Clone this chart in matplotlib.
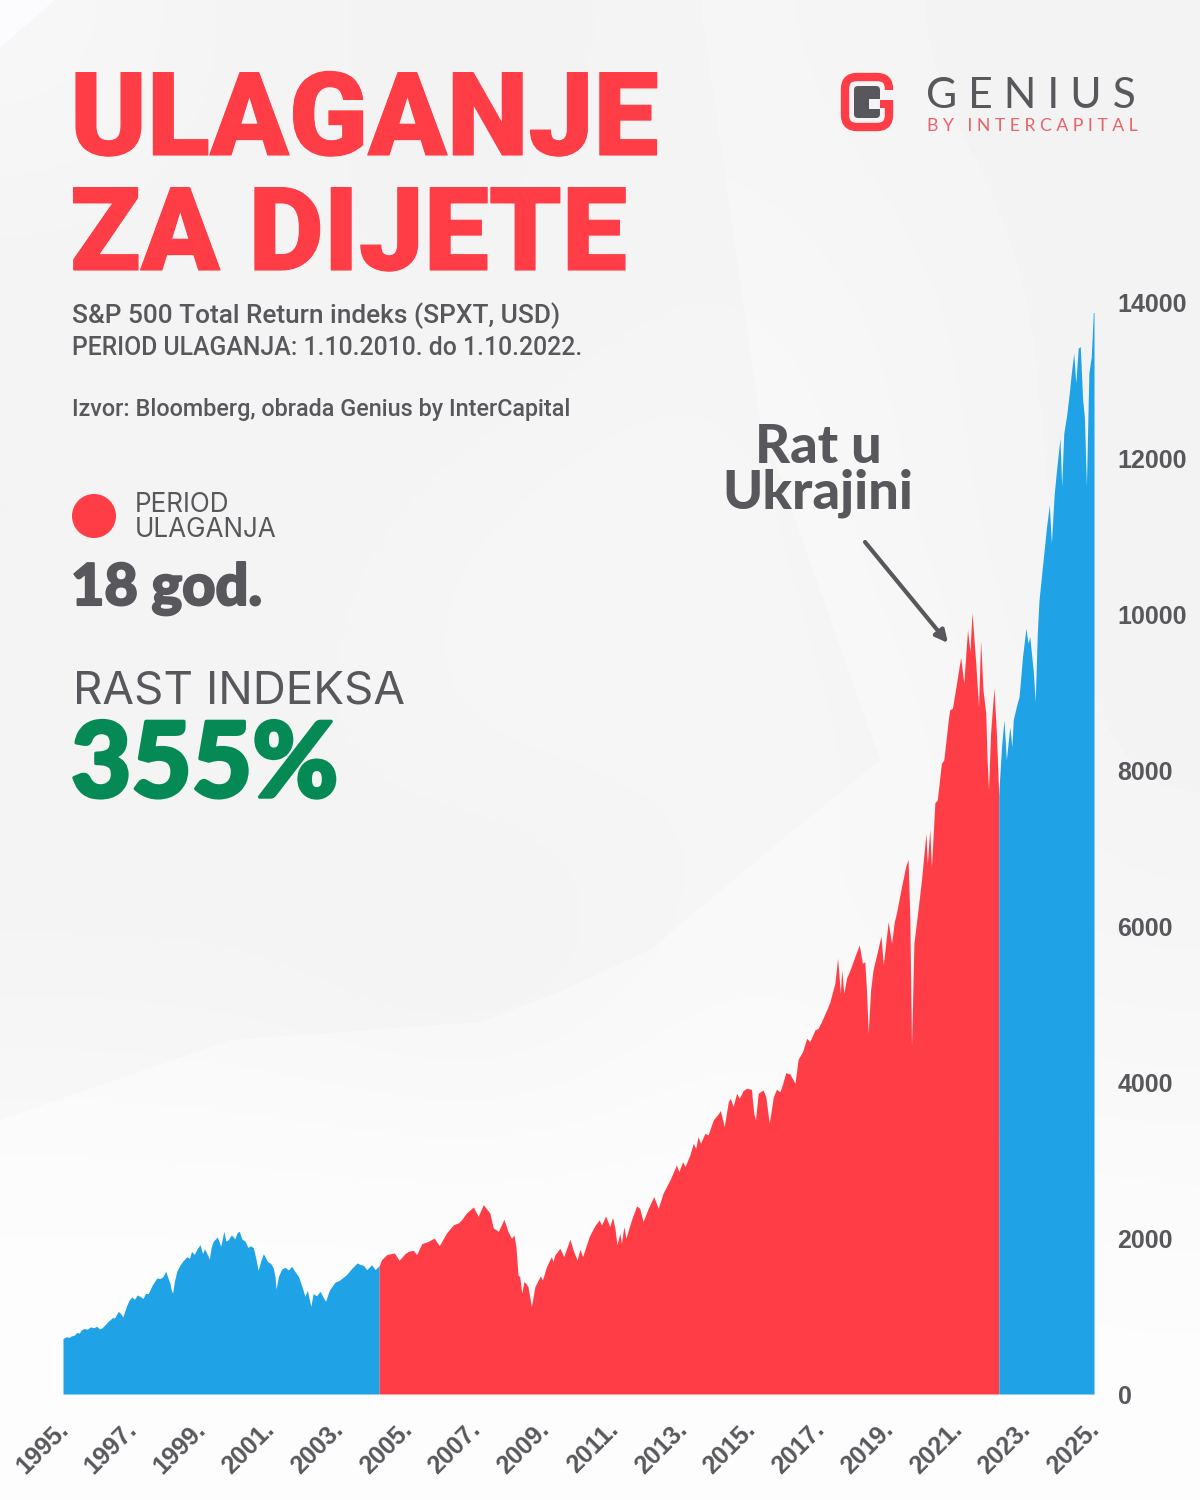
import numpy as np
import matplotlib
matplotlib.use('Agg')
import matplotlib.pyplot as plt
import matplotlib.patheffects as pe
from matplotlib.patches import Polygon, Circle, FancyBboxPatch
from matplotlib.transforms import ScaledTranslation

# S&P 500 total return
years = [1995.00, 1995.10, 1995.17, 1995.25, 1995.33, 1995.40, 1995.47, 1995.54, 1995.62, 1995.70, 1995.80, 1995.90,
         1995.98, 1996.06, 1996.13, 1996.25, 1996.30, 1996.37, 1996.44, 1996.50, 1996.61, 1996.68, 1996.74, 1996.85,
         1996.92, 1997.00, 1997.08, 1997.16, 1997.24, 1997.33, 1997.40, 1997.48, 1997.60, 1997.73, 1997.82, 1997.90,
         1997.99, 1998.06, 1998.11, 1998.15, 1998.19, 1998.24, 1998.31, 1998.40, 1998.48, 1998.60, 1998.68, 1998.74,
         1998.82, 1998.90, 1998.99, 1999.06, 1999.12, 1999.26, 1999.31, 1999.37, 1999.49, 1999.59, 1999.68, 1999.74,
         1999.81, 1999.90, 2000.00, 2000.07, 2000.13, 2000.20, 2000.30, 2000.38, 2000.46, 2000.54, 2000.60, 2000.68,
         2000.75, 2000.83, 2000.95, 2001.05, 2001.12, 2001.17, 2001.20, 2001.27, 2001.36, 2001.46, 2001.56, 2001.65,
         2001.75, 2001.85, 2001.95, 2002.04, 2002.11, 2002.21, 2002.28, 2002.38, 2002.48, 2002.56, 2002.64, 2002.75,
         2002.91, 2003.05, 2003.25, 2003.40, 2003.56, 2003.65, 2003.74, 2003.84, 2003.98, 2004.08, 2004.20,
         2004.27, 2004.42, 2004.64, 2004.78, 2004.95, 2005.05, 2005.19, 2005.29, 2005.44, 2005.63, 2005.80, 2005.95,
         2006.16, 2006.36, 2006.50, 2006.60, 2006.74, 2006.94, 2007.08, 2007.23, 2007.42, 2007.52, 2007.67, 2007.83,
         2007.95, 2008.05, 2008.12, 2008.18, 2008.24, 2008.29, 2008.35, 2008.41, 2008.47, 2008.53, 2008.63, 2008.73,
         2008.83, 2008.89, 2008.95, 2009.07, 2009.21, 2009.26, 2009.31, 2009.46, 2009.57, 2009.75, 2009.86, 2009.96,
         2010.04, 2010.12, 2010.31, 2010.47, 2010.60, 2010.67, 2010.79, 2010.91, 2010.99, 2011.06, 2011.12, 2011.20,
         2011.25, 2011.32, 2011.38, 2011.54, 2011.69, 2011.78, 2011.88, 2012.03, 2012.19, 2012.32, 2012.46, 2012.66,
         2012.85, 2012.92, 2013.03, 2013.10, 2013.24, 2013.34, 2013.41, 2013.48, 2013.55, 2013.68, 2013.77, 2013.92,
         2014.04, 2014.13, 2014.24, 2014.36, 2014.42, 2014.50, 2014.60, 2014.68, 2014.79, 2014.89, 2015.03, 2015.10,
         2015.15, 2015.23, 2015.37, 2015.45, 2015.55, 2015.67, 2015.76, 2015.86, 2015.93, 2016.03, 2016.15, 2016.30,
         2016.39, 2016.52, 2016.64, 2016.73, 2016.88, 2016.97, 2017.07, 2017.22, 2017.31, 2017.46, 2017.54, 2017.62,
         2017.66, 2017.72, 2017.80, 2017.92, 2018.04, 2018.17, 2018.26, 2018.33, 2018.38, 2018.43, 2018.50, 2018.57,
         2018.72, 2018.80, 2018.87, 2019.01, 2019.11, 2019.19, 2019.25, 2019.40, 2019.52, 2019.59, 2019.64, 2019.69,
         2019.76, 2019.89, 2019.98, 2020.11, 2020.15, 2020.22, 2020.27, 2020.37, 2020.44, 2020.56, 2020.63, 2020.76,
         2020.80, 2020.88, 2021.00, 2021.12, 2021.21, 2021.32, 2021.39, 2021.45, 2021.56, 2021.64, 2021.70, 2021.77,
         2021.85, 2021.89, 2021.93, 2021.99, 2022.09, 2022.16, 2022.23,
         2022.24, 2022.31, 2022.38, 2022.45, 2022.55, 2022.61, 2022.65, 2022.74, 2022.82, 2022.92, 2023.02, 2023.08,
         2023.13, 2023.23, 2023.29, 2023.35, 2023.40, 2023.52, 2023.62, 2023.70, 2023.76, 2023.84, 2023.91, 2024.01,
         2024.06, 2024.12, 2024.20, 2024.28, 2024.34, 2024.41, 2024.47, 2024.54, 2024.60, 2024.67, 2024.72, 2024.78,
         2024.85, 2024.92, 2024.98, 2025.00]
index_values = [710, 735, 725, 745, 755, 790, 780, 825, 840, 830, 860, 850,
                868, 835, 846, 900, 925, 953, 980, 975, 1060, 1030, 987, 1130,
                1200, 1244, 1215, 1270, 1252, 1225, 1290, 1286, 1400, 1487, 1480, 1500,
                1573, 1480, 1423, 1330, 1295, 1440, 1573, 1650, 1701, 1760, 1740, 1829,
                1790, 1860, 1915, 1800, 1860, 1731, 1880, 1957, 2013, 1893, 2086, 1960,
                1979, 2040, 1990, 2070, 2086, 1990, 1957, 1880, 1900, 1872, 1760, 1586,
                1700, 1799, 1700, 1670, 1615, 1500, 1346, 1509, 1600, 1624, 1590, 1637,
                1570, 1509, 1380, 1252, 1329, 1124, 1286, 1260, 1316, 1250, 1188, 1330,
                1432, 1460, 1530, 1610, 1680, 1660, 1650, 1594, 1658, 1594, 1646,
                1722, 1787, 1808, 1714, 1799, 1829, 1842, 1787, 1928, 1957, 2000, 1902,
                2064, 2171, 2192, 2235, 2321, 2398, 2278, 2427, 2321, 2128, 2086, 2240,
                2081, 1996, 2039, 1889, 1526, 1504, 1291, 1440, 1419, 1376, 1120, 1376,
                1462, 1513, 1462, 1633, 1761, 1697, 1782, 1868, 1761, 1983, 1825, 1718,
                1855, 1761, 2017, 2154, 2231, 2167, 2282, 2146, 2265, 2124, 1910, 2060,
                1932, 2146, 1996, 2231, 2411, 2381, 2210, 2381, 2530, 2381, 2573, 2744,
                2936, 2851, 2979, 2915, 3064, 3214, 3150, 3300, 3214, 3342, 3321, 3513,
                3577, 3633, 3428, 3748, 3791, 3684, 3855, 3791, 3889, 3919, 3906, 3599,
                3513, 3855, 3898, 3812, 3470, 3812, 3906, 3876, 3962, 4120, 4103, 3983,
                4291, 4389, 4560, 4518, 4667, 4688, 4774, 4924, 5018, 5266, 5586, 5137,
                5437, 5137, 5330, 5458, 5607, 5757, 5522, 5543, 5180, 4625, 5180, 5436,
                5714, 5872, 5500, 6056, 5778, 6056, 6163, 6505, 6761, 6855, 6120, 4453,
                5778, 6249, 6590, 7187, 6790, 7236, 6750, 7580, 7616, 8086, 8129, 8642,
                8770, 8791, 9112, 9445, 9112, 9796, 9518, 10018, 9369, 8813, 9659, 9026,
                8728, 8129, 7744, 8471, 9048, 8471, 7659,
                7787, 8300, 8642, 8129, 8556, 8300, 8642, 8813, 8941, 9454, 9817, 9625,
                9710, 9283, 8877, 9753, 10181, 10693, 11121, 11399, 10907, 11527, 11847, 12253,
                11634, 12317, 12531, 12830, 13087, 13343, 12959, 13407, 13429, 12745, 12531, 11634,
                13087, 13300, 13865, 13865]

period_start = 2004.20
period_end = 2022.23
x_ticks = list(range(1995, 2026, 2))
x_labels = [f'{y}.' for y in x_ticks]
y_ticks = [0, 2000, 4000, 6000, 8000, 10000, 12000, 14000]

RED = '#ff3d47'
BLUE = '#1fa3e6'
GRAY = '#58585c'
GREEN = '#068a55'

x = np.array(years)
y = np.array(index_values)

fig = plt.figure(figsize=(12, 15), dpi=100, facecolor='#fcfbfd')

# page layer, in pixels from the top left
page = fig.add_axes([0, 0, 1, 1], zorder=0)

# soft backdrop, rows run top to bottom
backdrop = np.array([[250, 245, 244, 246, 244, 243],
                     [245, 245, 245, 248, 246, 243],
                     [245, 246, 249, 250, 246, 243],
                     [245, 247, 249, 248, 249, 243],
                     [247, 246, 243, 249, 247, 246],
                     [252, 252, 252, 252, 252, 250],
                     [253, 253, 253, 253, 253, 253]])
page.imshow(backdrop, cmap='gray', vmin=0, vmax=255, extent=(0, 1200, 1500, 0), aspect='auto', interpolation='bicubic')
page.set_xlim(0, 1200)
page.set_ylim(1500, 0)
page.axis('off')
page.add_patch(Polygon([(0, 1120), (230, 1040), (480, 1022), (557, 993), (650, 950), (757, 860), (880, 760), (760, 420),
                        (700, 0), (0, 0)], fc='#e6e6e9', ec='none', alpha=0.12))
page.add_patch(Polygon([(0, 0), (55, 0), (0, 48)], fc='#fcfbfd', ec='none'))

# chart
ax = fig.add_axes([63 / 1200, (1500 - 1394) / 1500, (1094 - 63) / 1200, (1394 - 302) / 1500], zorder=1)
ax.patch.set_alpha(0)
before = x <= period_start
during = (x >= period_start) & (x <= period_end)
after = x >= period_end
ax.fill_between(x[before], y[before], color=BLUE, lw=0)
ax.fill_between(x[during], y[during], color=RED, lw=0)
ax.fill_between(x[after], y[after], color=BLUE, lw=0)
ax.set_xlim(1995, 2025)
ax.set_ylim(0, 14000)
for s in ax.spines.values():
    s.set_visible(False)
ax.yaxis.tick_right()
ax.set_yticks(y_ticks)
ax.set_xticks(x_ticks)
ax.set_xticklabels(x_labels, rotation=45, ha='right', va='top', rotation_mode='anchor')
ax.tick_params(axis='both', length=0, labelcolor=GRAY, labelsize=18)
ax.tick_params(axis='y', pad=17)
ax.tick_params(axis='x', pad=17)
shift = ScaledTranslation(-7 / 100, 0, fig.dpi_scale_trans)
for t in ax.get_xticklabels():
    t.set_transform(t.get_transform() + shift)
for t in ax.get_xticklabels() + ax.get_yticklabels():
    t.set_family('Liberation Sans')
    t.set_fontweight('bold')

# title and notes
heavy = [pe.withStroke(linewidth=0.8, foreground=RED)]
page.text(70, 155, 'ULAGANJE', color=RED, fontsize=83.5, family='Roboto', weight='black', path_effects=heavy)
page.text(70, 270, 'ZA DIJETE', color=RED, fontsize=83.5, family='Roboto', weight='black', path_effects=heavy)
page.text(72, 323, 'S&P 500 Total Return indeks (SPXT, USD)', color=GRAY, fontsize=18.9, family='Roboto', weight='medium')
page.text(72, 355, 'PERIOD ULAGANJA: 1.10.2010. do 1.10.2022.', color=GRAY, fontsize=17.8, family='Roboto', weight='medium')
page.text(72, 416, 'Izvor: Bloomberg, obrada Genius by InterCapital', color=GRAY, fontsize=16.8, family='Roboto', weight='medium')

page.add_patch(Circle((94, 516), 22, fc=RED, ec='none'))
page.text(135, 512, 'PERIOD', color=GRAY, fontsize=18.8, family='Inter')
page.text(135, 537, 'ULAGANJA', color=GRAY, fontsize=18.8, family='Inter')
page.text(71, 605, '18 god.', color=GRAY, fontsize=41.5, family='Lato', weight='black',
          path_effects=[pe.withStroke(linewidth=1.5, foreground=GRAY)])
page.text(73, 704, 'RAST INDEKSA', color=GRAY, fontsize=33, family='Inter')
page.text(71, 797, '355%', color=GREEN, fontsize=75, family='Lato', weight='black',
          path_effects=[pe.withStroke(linewidth=2.5, foreground=GREEN)])

# annotation
page.text(818, 463, 'Rat u', color=GRAY, fontsize=39, family='Lato', weight='black', ha='center')
page.text(818, 509, 'Ukrajini', color=GRAY, fontsize=39, family='Lato', weight='black', ha='center')
page.annotate('', xy=(948, 643), xytext=(865, 542),
              arrowprops=dict(arrowstyle='-|>', color=GRAY, lw=3, mutation_scale=18, shrinkA=0, shrinkB=0))

# logo
page.add_patch(FancyBboxPatch((845, 77), 44, 50, boxstyle='round,pad=0,rounding_size=12', fc='none', ec=RED, lw=6))
page.add_patch(Polygon([(884, 90), (896, 90), (896, 100), (884, 100)], fc='#f4f3f5', ec='none'))
page.add_patch(FancyBboxPatch((854, 86), 26, 32, boxstyle='round,pad=0,rounding_size=4', fc=GRAY, ec='none'))
page.add_patch(Polygon([(869, 99), (880, 99), (880, 109), (869, 109)], fc='#f4f3f5', ec='none'))
page.add_patch(Polygon([(880, 100), (893, 100), (893, 108), (880, 108)], fc=RED, ec='none'))
page.text(926, 108, 'G E N I U S', color=GRAY, fontsize=30.8, family='Lato')
page.text(927, 131, 'B Y   I N T E R C A P I T A L', color='#e8636a', fontsize=12.7, family='Lato')

fig.savefig('out.png', dpi=100)
